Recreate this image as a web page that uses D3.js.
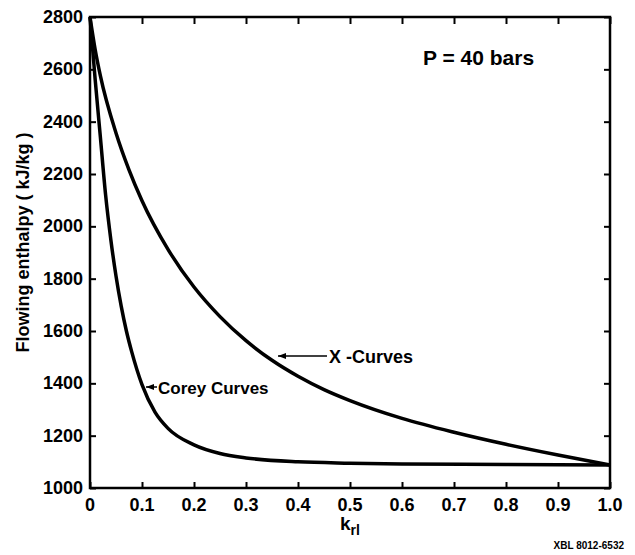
<!DOCTYPE html>
<html><head><meta charset="utf-8">
<script src="https://cdn.jsdelivr.net/npm/d3@7"></script>
<style>
body{margin:0;background:#fff;}
text{font-family:"Liberation Sans",Arial,sans-serif;font-weight:bold;fill:#000;}
</style></head>
<body><svg id="c" width="635" height="555"></svg>
<script>
// X-Curves (kr, enthalpy)
const xCurveKr = [0,0.01,0.02,0.05,0.075,0.1,0.15,0.2,0.25,0.3,0.35,0.4,0.45,0.5,0.6,0.7,0.8,0.9,1.0];
const xCurveH  = [2800,2675,2575,2357,2216,2098,1912,1768,1655,1563,1488,1427,1376,1334,1266,1213,1167,1126,1088];
// Corey Curves
const coreyKr = [0,0.01,0.02,0.03,0.04,0.05,0.06,0.07,0.08,0.1,0.125,0.15,0.2,0.25,0.3,0.4,0.5,0.6,0.8,1.0];
const coreyH  = [2800,2560,2340,2120,1950,1810,1695,1600,1522,1395,1290,1228,1165,1132,1115,1100,1095,1092,1090,1088];
const xTicks = [0,0.1,0.2,0.3,0.4,0.5,0.6,0.7,0.8,0.9,1.0];
const xTickLabels = ["0","0.1","0.2","0.3","0.4","0.5","0.6","0.7","0.8","0.9","1.0"];
const yTicks = [1000,1200,1400,1600,1800,2000,2200,2400,2600,2800];

const svg = d3.select("#c");
const L=90,R=610,T=17,B=488;
const x = d3.scaleLinear().domain([0,1]).range([L,R]);
const y = d3.scaleLinear().domain([1000,2800]).range([B,T]);

// ticks (inward) on all sides
const g = svg.append("g");
g.append("g").attr("transform",`translate(0,${B})`)
  .call(d3.axisTop(x).tickValues(xTicks).tickSize(6).tickFormat(""));
g.append("g").attr("transform",`translate(0,${T})`)
  .call(d3.axisBottom(x).tickValues(xTicks).tickSize(7).tickFormat(""));
g.append("g").attr("transform",`translate(${L},0)`)
  .call(d3.axisRight(y).tickValues(yTicks).tickSize(6).tickFormat(""));
g.append("g").attr("transform",`translate(${R},0)`)
  .call(d3.axisLeft(y).tickValues(yTicks).tickSize(6).tickFormat(""));
g.selectAll(".domain").remove();
g.selectAll(".tick line").attr("stroke","#000").attr("stroke-width",2);

svg.append("rect").attr("x",L).attr("y",T).attr("width",R-L).attr("height",B-T)
  .attr("fill","none").attr("stroke","#000").attr("stroke-width",2.5);

// tick labels
svg.selectAll(".xl").data(xTicks).enter().append("text")
  .attr("x",(d)=>x(d)).attr("y",B+23).attr("text-anchor","middle")
  .attr("font-size",18).text((d,i)=>xTickLabels[i]);
svg.selectAll(".yl").data(yTicks).enter().append("text")
  .attr("x",L-7).attr("y",(d)=>y(d)+6).attr("text-anchor","end")
  .attr("font-size",18).text(d=>d);

// curves
const line = d3.line().x(d=>x(d[0])).y(d=>y(d[1])).curve(d3.curveMonotoneX);
svg.append("path").datum(xCurveKr.map((k,i)=>[k,xCurveH[i]]))
  .attr("d",line).attr("fill","none").attr("stroke","#000").attr("stroke-width",3.5);
svg.append("path").datum(coreyKr.map((k,i)=>[k,coreyH[i]]))
  .attr("d",line).attr("fill","none").attr("stroke","#000").attr("stroke-width",3.5);

// annotations
function arrow(x1,y1,x2,y2){
  svg.append("line").attr("x1",x1).attr("y1",y1).attr("x2",x2).attr("y2",y2)
    .attr("stroke","#000").attr("stroke-width",1.5);
  svg.append("path").attr("d",`M${x2},${y2}L${x2+8},${y2-3}L${x2+8},${y2+3}Z`).attr("fill","#000");
}
arrow(327,356,278,356);
svg.append("text").attr("x",329).attr("y",363).attr("font-size",18).text("X -Curves");
arrow(157,387,146,387);
svg.append("text").attr("x",158).attr("y",394).attr("font-size",17).text("Corey Curves");
svg.append("text").attr("x",423).attr("y",65).attr("font-size",21).attr("font-weight","normal").text("P = 40 bars");

// axis titles
svg.append("text").attr("transform",`translate(29,${(T+B)/2-10}) rotate(-90)`)
  .attr("text-anchor","middle").attr("font-size",18).text("Flowing enthalpy ( kJ/kg )");
const kt = svg.append("text").attr("x",x(0.5)).attr("y",530).attr("text-anchor","middle").attr("font-size",19);
kt.append("tspan").text("k");
kt.append("tspan").attr("dy",5).attr("font-size",14).text("rl");
svg.append("text").attr("x",624).attr("y",549).attr("text-anchor","end").attr("font-size",10).text("XBL 8012-6532");
</script></body></html>
